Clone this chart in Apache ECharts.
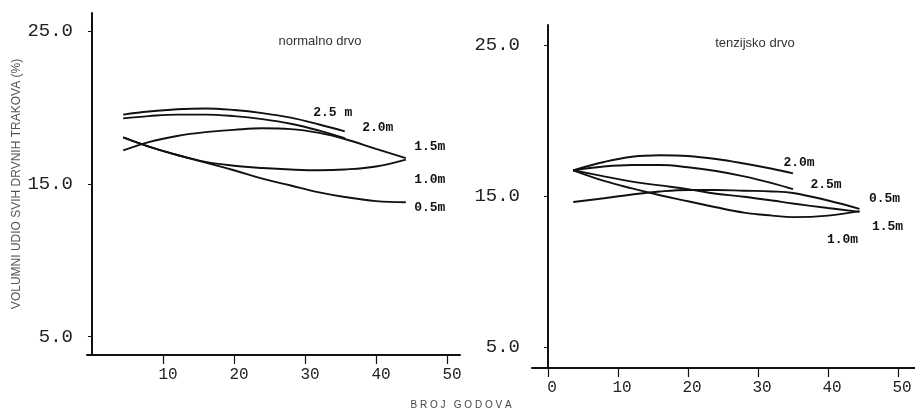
<!DOCTYPE html>
<html>
<head>
<meta charset="utf-8">
<script src="https://cdn.jsdelivr.net/npm/echarts@6/dist/echarts.min.js"></script>
<style>
html, body { margin: 0; padding: 0; background: #fff; }
#chart { width: 915px; height: 415px; }
</style>
</head>
<body>
<div id="chart"></div>
<script>
// normalno drvo (lijevo)
const normAges = [4.4, 8, 12, 16, 20, 24, 28, 32, 35.6, 40, 44.2]
const norm25 = [19.55, 19.75, 19.9, 19.95, 19.85, 19.65, 19.35, 18.9, 18.45]
const norm20 = [19.3, 19.45, 19.55, 19.55, 19.45, 19.25, 18.95, 18.5, 18.0]
const norm15 = [17.2, 17.75, 18.15, 18.4, 18.55, 18.65, 18.6, 18.35, 17.95, 17.3, 16.7]
const norm10 = [18.05, 17.45, 16.9, 16.45, 16.2, 16.05, 15.95, 15.9, 15.95, 16.15, 16.6]
const norm05 = [18.05, 17.45, 16.9, 16.4, 15.9, 15.35, 14.9, 14.45, 14.15, 13.88, 13.8]

// tenzijsko drvo (desno)
const tenzAges = [3.6, 8, 12, 16, 20, 24, 28, 32, 35, 40, 44.5]
const tenz20 = [16.7, 17.25, 17.6, 17.7, 17.65, 17.45, 17.15, 16.8, 16.5]
const tenz25 = [16.7, 16.95, 17.05, 17.05, 16.9, 16.65, 16.3, 15.85, 15.45]
const tenz05 = [14.6, 14.85, 15.1, 15.3, 15.4, 15.4, 15.35, 15.3, 15.2, 14.7, 14.15]
const tenz15 = [16.7, 16.3, 15.95, 15.7, 15.45, 15.15, 14.95, 14.7, 14.5, 14.2, 13.95]
const tenz10 = [16.7, 16.0, 15.5, 15.05, 14.65, 14.25, 13.9, 13.7, 13.6, 13.7, 14.0]

const xTicksLeft = [10, 20, 30, 40, 50]
const xTicksRight = [0, 10, 20, 30, 40, 50]
const yTicks = [5, 15, 25]

function pairs(ages, vals) {
    return vals.map((v, i) => [ages[i], v])
}

const mono = 'Liberation Mono'

function curve(name, idx, ages, vals, off) {
    const data = pairs(ages, vals)
    return {
        name: name,
        type: 'line',
        xAxisIndex: idx,
        yAxisIndex: idx,
        data: data,
        smooth: 0.4,
        showSymbol: false,
        silent: true,
        lineStyle: { color: '#111', width: 1.9 },
        markPoint: {
            symbol: 'circle',
            symbolSize: 0,
            silent: true,
            label: {
                show: true,
                position: 'inside',
                formatter: name,
                offset: off,
                color: '#111',
                fontFamily: mono,
                fontWeight: 'bold',
                fontSize: 13
            },
            data: [{ coord: data[data.length - 1] }]
        }
    }
}

function xAxis(idx, min, max, ticks, padLeft, margin) {
    return {
        type: 'value',
        gridIndex: idx,
        min: min,
        max: max,
        splitLine: { show: false },
        axisLine: { show: true, lineStyle: { color: '#111', width: 2 } },
        axisTick: { show: true, customValues: ticks, length: 9, lineStyle: { color: '#111', width: 1.2 } },
        axisLabel: {
            customValues: ticks,
            margin: margin,
            padding: [0, 0, 0, padLeft],
            color: '#222',
            fontFamily: mono,
            fontSize: 16
        }
    }
}

function yAxis(idx, min, max, margin) {
    return {
        type: 'value',
        gridIndex: idx,
        min: min,
        max: max,
        splitLine: { show: false },
        axisLine: { show: true, lineStyle: { color: '#111', width: 2 } },
        axisTick: { show: true, customValues: yTicks, length: 4, lineStyle: { color: '#111' } },
        axisLabel: {
            customValues: yTicks,
            margin: margin,
            formatter: v => v.toFixed(1),
            color: '#222',
            fontFamily: mono,
            fontSize: 19
        }
    }
}

let myChart = echarts.init(document.getElementById('chart'))
let yLeft = yAxis(0, 3.79, 26.21, 14)
yLeft.name = 'VOLUMNI UDIO SVIH DRVNIH TRAKOVA (%)'
yLeft.nameLocation = 'middle'
yLeft.nameGap = 64
yLeft.nameTextStyle = { color: '#555', fontSize: 12, fontFamily: 'Liberation Sans' }

myChart.setOption({
    backgroundColor: '#fff',
    animation: false,
    title: [
        { text: 'normalno drvo', left: 315, top: 30, textAlign: 'center',
          textStyle: { fontSize: 13, fontWeight: 'normal', color: '#333', fontFamily: 'Liberation Sans' } },
        { text: 'tenzijsko drvo', left: 750, top: 32, textAlign: 'center',
          textStyle: { fontSize: 13, fontWeight: 'normal', color: '#333', fontFamily: 'Liberation Sans' } },
        { text: 'B R O J   G O D O V A', left: 456, top: 395, textAlign: 'center',
          textStyle: { fontSize: 10, fontWeight: 'normal', color: '#444', fontFamily: 'Liberation Sans' } }
    ],
    grid: [
        { left: 87, top: 13, width: 373, height: 342 },
        { left: 532, top: 25, width: 383, height: 343 }
    ],
    xAxis: [
        xAxis(0, -0.7, 51.83, xTicksLeft, 10, 12),
        xAxis(1, -2.29, 52.43, xTicksRight, 8, 12)
    ],
    yAxis: [
        yLeft,
        yAxis(1, 3.61, 26.32, 12)
    ],
    series: [
        curve('2.5 m', 0, normAges, norm25, [-12, -19]),
        curve('2.0m', 0, normAges, norm20, [33, -11]),
        curve('1.5m', 0, normAges, norm15, [24, -11]),
        curve('1.0m', 0, normAges, norm10, [24, 20]),
        curve('0.5m', 0, normAges, norm05, [24, 5]),
        curve('2.0m', 1, tenzAges, tenz20, [6, -11]),
        curve('2.5m', 1, tenzAges, tenz25, [33, -4]),
        curve('0.5m', 1, tenzAges, tenz05, [25, -10]),
        curve('1.5m', 1, tenzAges, tenz15, [28, 15]),
        curve('1.0m', 1, tenzAges, tenz10, [-17, 29])
    ]
})
</script>
</body>
</html>
